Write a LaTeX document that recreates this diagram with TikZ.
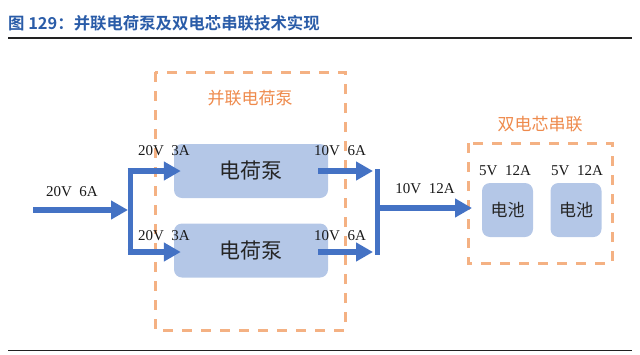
\documentclass[tikz,border=0pt]{standalone}
\usepackage{fontspec}
\setmainfont{Liberation Serif}
\newfontfamily\cjk[BoldFont={Noto Sans CJK SC Bold}]{Noto Sans CJK SC}
\usetikzlibrary{arrows.meta}
\definecolor{arrowblue}{HTML}{4472C4}
\definecolor{boxblue}{HTML}{B4C7E7}
\definecolor{dashorange}{HTML}{F4B183}
\definecolor{textorange}{HTML}{EE8A4C}
\definecolor{titleblue}{HTML}{2A5CA8}
\definecolor{rulegray}{HTML}{222222}
\tikzset{
  pumpbox/.style={fill=boxblue, rounded corners=8pt, minimum width=154pt, minimum height=54pt, inner sep=0pt, font=\cjk\fontsize{21}{21}\selectfont, text=black!85},
  cellbox/.style={fill=boxblue, rounded corners=8pt, minimum width=51pt, minimum height=54pt, inner sep=0pt, font=\cjk\fontsize{17}{17}\selectfont, text=black!85},
  vlabel/.style={font=\fontsize{15}{15}\selectfont, inner sep=0pt, text=black!90},
  flow/.style={arrowblue, line width=6pt, -{Triangle[length=17pt,width=18pt]}},
  busbar/.style={arrowblue, line width=5pt},
  grouprect/.style={draw=dashorange, line width=3pt, dash pattern=on 10pt off 9pt},
  grouptitle/.style={text=textorange, font=\cjk\fontsize{17}{17}\selectfont, inner sep=0pt},
  hrule/.style={draw=rulegray, line width=1.5pt}
}
\begin{document}
\begin{tikzpicture}[x=1pt,y=-1pt]
\useasboundingbox (0,0) rectangle (640,354);
% title and rules
\node[anchor=west, inner sep=0pt, text=titleblue, font=\cjk\bfseries\fontsize{16.4}{16.4}\selectfont] (title) at (8,23) {图 129：并联电荷泵及双电芯串联技术实现};
\coordinate (r1a) at (8,38); \coordinate (r1b) at (632,38);
\coordinate (r2a) at (8,350.5); \coordinate (r2b) at (632,350.5);
\draw[hrule] (r1a) -- (r1b);
\draw[hrule] (r2a) -- (r2b);
% groups
\coordinate (g1a) at (155,72); \coordinate (g1b) at (345,330);
\draw[grouprect] (g1a) rectangle (g1b);
\node[grouptitle] (g1t) at (250,98) {并联电荷泵};
\coordinate (g2a) at (468,143); \coordinate (g2b) at (612,263);
\draw[grouprect] (g2a) rectangle (g2b);
\node[grouptitle] (g2t) at (540,124) {双电芯串联};
% pumps
\node[pumpbox] (pump1) at (251,171) {电荷泵};
\node[pumpbox] (pump2) at (251,250.5) {电荷泵};
% cells
\node[cellbox] (cell1) at (507.5,210) {电池};
\node[cellbox] (cell2) at (576,210) {电池};
% input
\coordinate (src) at (33,210);
\coordinate (splitin) at (128,210);
\draw[flow] (src) -- (splitin);
\node[vlabel] (inlbl) at (72,192) {20V\ \ 6A};
\coordinate (sbtop) at (130,168);
\coordinate (sbbot) at (130,255);
\draw[busbar] (sbtop) -- (sbbot);
\coordinate (b1) at (127.5,171);
\coordinate (b2) at (127.5,252);
\draw[flow] (b1) -- ([xshift=7pt]pump1.west |- b1);
\draw[flow] (b2) -- ([xshift=7pt]pump2.west |- b2);
\node[vlabel] (l1) at (164,151) {20V\ \ 3A};
\node[vlabel] (l2) at (164,236) {20V\ \ 3A};
% outputs
\coordinate (mbtop) at (377,169);
\coordinate (mbbot) at (377,255);
\draw[busbar] (mbtop) -- (mbbot);
\draw[flow] ([xshift=-10pt]pump1.east |- b1) -- (373,171);
\draw[flow] ([xshift=-10pt]pump2.east |- b2) -- (373,252);
\node[vlabel] (l3) at (340,151) {10V\ \ 6A};
\node[vlabel] (l4) at (340,236) {10V\ \ 6A};
\coordinate (mout) at (377,208);
\coordinate (cin) at (472,208);
\draw[flow] (mout) -- (cin);
\node[vlabel] (l5) at (425,189) {10V\ \ 12A};
\node[vlabel] (l6) at (505,171) {5V\ \ 12A};
\node[vlabel] (l7) at (577,171) {5V\ \ 12A};
\end{tikzpicture}
\end{document}
